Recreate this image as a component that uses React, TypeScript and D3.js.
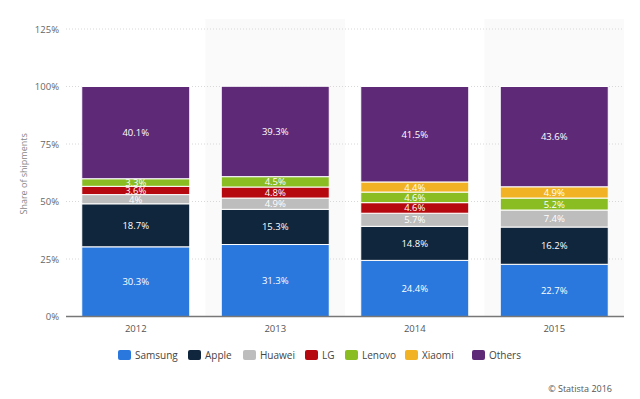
import React, { useEffect, useRef } from "react";
import * as d3 from "d3";

const years = ["2012", "2013", "2014", "2015"];
const brands = ["Samsung", "Apple", "Huawei", "LG", "Lenovo", "Xiaomi", "Others"];
const samsung = [30.3, 31.3, 24.4, 22.7];
const apple = [18.7, 15.3, 14.8, 16.2];
const huawei = [4, 4.9, 5.7, 7.4];
const lg = [3.6, 4.8, 4.6, 0];
const lenovo = [3.3, 4.5, 4.6, 5.2];
const xiaomi = [0, 0, 4.4, 4.9];
const others = [40.1, 39.3, 41.5, 43.6];
const yTicks = [0, 25, 50, 75, 100, 125];
const colors = ["#2a78de", "#10263d", "#bdbdbd", "#b5090f", "#89bd22", "#f1b325", "#5e2a78"];

const App = () => {
  const ref = useRef<SVGSVGElement>(null);
  useEffect(() => {
    const WIDTH = 640;
    const HEIGHT = 399;
    const svg = d3.select(ref.current);
    svg.selectAll("*").remove();

    const series = [samsung, apple, huawei, lg, lenovo, xiaomi, others];
    const rows = years.map((y, i) => {
      const r: any = { year: y };
      brands.forEach((b, j) => (r[b] = series[j][i]));
      return r;
    });
    const stacked = d3.stack().keys(brands)(rows);

    const x = d3.scaleBand().domain(years).range([66, 624]).paddingInner(0).paddingOuter(0);
    const y = d3.scaleLinear().domain([0, 125]).range([316.5, 29]);
    const color = d3.scaleOrdinal<string>().domain(brands).range(colors);
    const font = "'Open Sans', sans-serif";

    svg.append("rect").attr("width", WIDTH).attr("height", HEIGHT).attr("fill", "#fff");

    // alternating column shading
    svg
      .selectAll(".band")
      .data(years.filter((d, i) => i % 2 === 1))
      .enter()
      .append("rect")
      .attr("x", (d) => x(d)!)
      .attr("y", y(125) - 10)
      .attr("width", x.bandwidth())
      .attr("height", y(0) - y(125) + 10)
      .attr("fill", "#fafafa");

    // grid
    svg
      .selectAll(".grid")
      .data(yTicks.filter((d) => d > 0))
      .enter()
      .append("line")
      .attr("x1", 66)
      .attr("x2", 624)
      .attr("y1", (d) => y(d))
      .attr("y2", (d) => y(d))
      .attr("stroke", "#d8d8d8")
      .attr("stroke-width", 1)
      .attr("stroke-dasharray", "1,2");

    svg
      .selectAll(".ytick")
      .data(yTicks)
      .enter()
      .append("text")
      .attr("x", 59)
      .attr("y", (d) => y(d) + 3.5)
      .attr("text-anchor", "end")
      .attr("font-family", font)
      .attr("font-size", 9.5)
      .attr("fill", "#666")
      .text((d) => d + "%");

    svg
      .append("text")
      .attr("transform", "translate(27," + y(62) + ") rotate(-90)")
      .attr("text-anchor", "middle")
      .attr("font-family", font)
      .attr("font-size", 9)
      .attr("fill", "#888")
      .text("Share of shipments");

    const barW = 108;
    const off = (x.bandwidth() - barW) / 2;

    const layers = svg
      .selectAll(".layer")
      .data(stacked)
      .enter()
      .append("g")
      .attr("fill", (d) => color(d.key));

    layers
      .selectAll("rect")
      .data((d) => d.filter((s) => s[1] - s[0] > 0))
      .enter()
      .append("rect")
      .attr("x", (d: any) => x(d.data.year)! + off)
      .attr("y", (d) => y(d[1]))
      .attr("width", barW)
      .attr("height", (d) => y(d[0]) - y(d[1]))
      .attr("stroke", "#fff")
      .attr("stroke-width", 1);

    layers
      .selectAll("text")
      .data((d) => d.filter((s) => s[1] - s[0] > 0))
      .enter()
      .append("text")
      .attr("x", (d: any) => x(d.data.year)! + x.bandwidth() / 2)
      .attr("y", (d) => (y(d[0]) + y(d[1])) / 2 + 3.5)
      .attr("text-anchor", "middle")
      .attr("font-family", font)
      .attr("font-size", 9.5)
      .attr("fill", "#fff")
      .text((d) => +(d[1] - d[0]).toFixed(1) + "%");

    // axis line
    svg
      .append("line")
      .attr("x1", 66)
      .attr("x2", 624)
      .attr("y1", y(0))
      .attr("y2", y(0))
      .attr("stroke", "#777")
      .attr("stroke-width", 1.5);

    svg
      .selectAll(".xtick")
      .data(years)
      .enter()
      .append("text")
      .attr("x", (d) => x(d)! + x.bandwidth() / 2)
      .attr("y", 332)
      .attr("text-anchor", "middle")
      .attr("font-family", font)
      .attr("font-size", 9.5)
      .attr("fill", "#555")
      .text((d) => d);

    // legend
    const legendX = [118, 188, 243, 305, 345, 405, 472];
    const legend = svg
      .selectAll(".legend")
      .data(brands)
      .enter()
      .append("g")
      .attr("transform", (d, i) => "translate(" + legendX[i] + ",350)");
    legend
      .append("rect")
      .attr("width", 13)
      .attr("height", 10)
      .attr("rx", 2)
      .attr("fill", (d) => color(d));
    legend
      .append("text")
      .attr("x", 17)
      .attr("y", 9)
      .attr("font-family", font)
      .attr("font-size", 10)
      .attr("fill", "#444")
      .text((d) => d);

    svg
      .append("text")
      .attr("x", 612)
      .attr("y", 392)
      .attr("text-anchor", "end")
      .attr("font-family", font)
      .attr("font-size", 9)
      .attr("fill", "#555")
      .text("© Statista 2016");
  }, []);

  return (
    <svg
      ref={ref}
      width={640}
      height={399}
      style={{ position: "absolute", left: 0, top: 0, display: "block" }}
    />
  );
};

export default App;
